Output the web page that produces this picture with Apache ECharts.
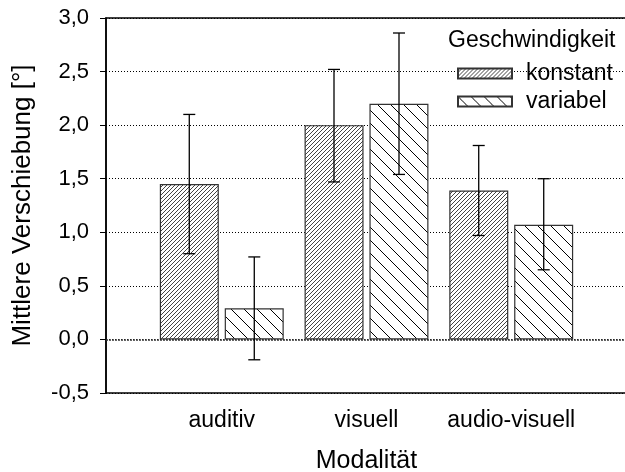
<!DOCTYPE html>
<html>
<head>
<meta charset="utf-8">
<script src="https://cdn.jsdelivr.net/npm/echarts@6.0.0/dist/echarts.min.js"></script>
<style>
  html, body { margin: 0; padding: 0; background: #fff; }
  #chart { width: 625px; height: 472px; }
</style>
</head>
<body>
<div id="chart"></div>
<script>
var kategorien = ['auditiv', 'visuell', 'audio-visuell'];
var konstant = [1.45, 2.0, 1.39];
var variabel = [0.29, 2.2, 1.07];
var konstantMin = [0.80, 1.47, 0.97];
var konstantMax = [2.10, 2.52, 1.81];
var variabelMin = [-0.19, 1.54, 0.65];
var variabelMax = [0.77, 2.86, 1.50];

var schrift = 'Liberation Sans, Arial, sans-serif';

// schraffur als canvas-muster
function schraffur(size, richtung, farbe) {
  var c = document.createElement('canvas');
  c.width = size; c.height = size;
  var ctx = c.getContext('2d');
  ctx.fillStyle = '#fff';
  ctx.fillRect(0, 0, size, size);
  ctx.strokeStyle = farbe;
  ctx.lineWidth = 1;
  ctx.beginPath();
  if (richtung > 0) {
    ctx.moveTo(0, size); ctx.lineTo(size, 0);
    ctx.moveTo(-1, 1); ctx.lineTo(1, -1);
    ctx.moveTo(size - 1, size + 1); ctx.lineTo(size + 1, size - 1);
  } else {
    ctx.moveTo(0, 0); ctx.lineTo(size, size);
    ctx.moveTo(-1, size - 1); ctx.lineTo(1, size + 1);
    ctx.moveTo(size - 1, -1); ctx.lineTo(size + 1, 1);
  }
  ctx.stroke();
  return { image: c, repeat: 'repeat' };
}

function punkte(werte) {
  return werte.map(function (v, i) { return [i + 1, v]; });
}
function fehler(lo, hi) {
  return lo.map(function (v, i) { return [i + 1, v, hi[i]]; });
}

function fehlerBalken(versatz) {
  return function (params, api) {
    var x = api.value(0);
    var oben = api.coord([x, api.value(2)]);
    var unten = api.coord([x, api.value(1)]);
    var cx = oben[0] + versatz;
    var st = { stroke: '#000', lineWidth: 1.3 };
    return {
      type: 'group',
      children: [
        { type: 'line', shape: { x1: cx, y1: oben[1], x2: cx, y2: unten[1] }, style: st },
        { type: 'line', shape: { x1: cx - 6, y1: oben[1], x2: cx + 6, y2: oben[1] }, style: st },
        { type: 'line', shape: { x1: cx - 6, y1: unten[1], x2: cx + 6, y2: unten[1] }, style: st }
      ]
    };
  };
}

var chartDom = document.getElementById('chart');
var myChart = echarts.init(chartDom);
var option;

option = {
  animation: false,
  textStyle: { fontFamily: schrift, color: '#000' },
  title: {
    text: 'Geschwindigkeit',
    left: 448,
    top: 29,
    padding: 0,
    textStyle: { fontFamily: schrift, fontSize: 23, fontWeight: 'normal', color: '#000' }
  },
  legend: {
    data: ['konstant', 'variabel'],
    orient: 'vertical',
    left: 457,
    top: 62,
    padding: 0,
    itemWidth: 54,
    itemHeight: 10,
    itemGap: 5,
    icon: 'rect',
    textStyle: { fontFamily: schrift, fontSize: 23, color: '#000', padding: [0, 0, 0, 9] }
  },
  grid: {
    left: 106,
    top: 18,
    width: 521,
    height: 375,
    outerBoundsMode: 'none',
    containLabel: false,
    show: true,
    borderColor: '#000',
    borderWidth: 1.5
  },
  xAxis: {
    type: 'value',
    min: 0.2,
    max: 3.8,
    name: 'Modalität',
    nameLocation: 'middle',
    nameGap: 56,
    nameTextStyle: { fontFamily: schrift, fontSize: 25, color: '#000' },
    axisLine: { show: false },
    axisTick: { show: false },
    splitLine: { show: false },
    axisLabel: {
      customValues: [1, 2, 3],
      margin: 16,
      fontFamily: schrift,
      fontSize: 23,
      color: '#000',
      formatter: function (v) { return kategorien[Math.round(v) - 1] || ''; }
    }
  },
  yAxis: {
    type: 'value',
    min: -0.5,
    max: 3.0,
    interval: 0.5,
    name: 'Mittlere Verschiebung [°]',
    nameLocation: 'middle',
    nameGap: 70,
    nameTextStyle: { fontFamily: schrift, fontSize: 26, color: '#000' },
    axisLine: { show: true, lineStyle: { color: '#000', width: 1.5 } },
    axisTick: { show: true, length: 6, lineStyle: { color: '#000', width: 1 } },
    axisLabel: {
      margin: 17,
      fontFamily: schrift,
      fontSize: 22,
      color: '#000',
      formatter: function (v) { return v.toFixed(1).replace('.', ','); }
    },
    splitLine: { show: true, lineStyle: { color: '#000', width: 1, type: [1, 2] } }
  },
  series: [
    {
      name: 'konstant',
      type: 'bar',
      data: punkte(konstant),
      barWidth: 59,
      barGap: '10%',
      itemStyle: { color: schraffur(4, 1, '#444'), borderColor: '#333', borderWidth: 1.2 },
      markLine: {
        silent: true,
        symbol: 'none',
        label: { show: false },
        lineStyle: { color: '#333', width: 1.5, type: [2, 1] },
        data: [{ yAxis: 0 }]
      }
    },
    {
      name: 'variabel',
      type: 'bar',
      data: punkte(variabel),
      barWidth: 59,
      barGap: '10%',
      itemStyle: { color: schraffur(13, -1, '#000'), borderColor: '#333', borderWidth: 1.2 }
    },
    {
      name: 'fehler konstant',
      type: 'custom',
      z: 5,
      data: fehler(konstantMin, konstantMax),
      renderItem: fehlerBalken(-32.5)
    },
    {
      name: 'fehler variabel',
      type: 'custom',
      z: 5,
      data: fehler(variabelMin, variabelMax),
      renderItem: fehlerBalken(32.5)
    }
  ]
};

option && myChart.setOption(option);
</script>
</body>
</html>
